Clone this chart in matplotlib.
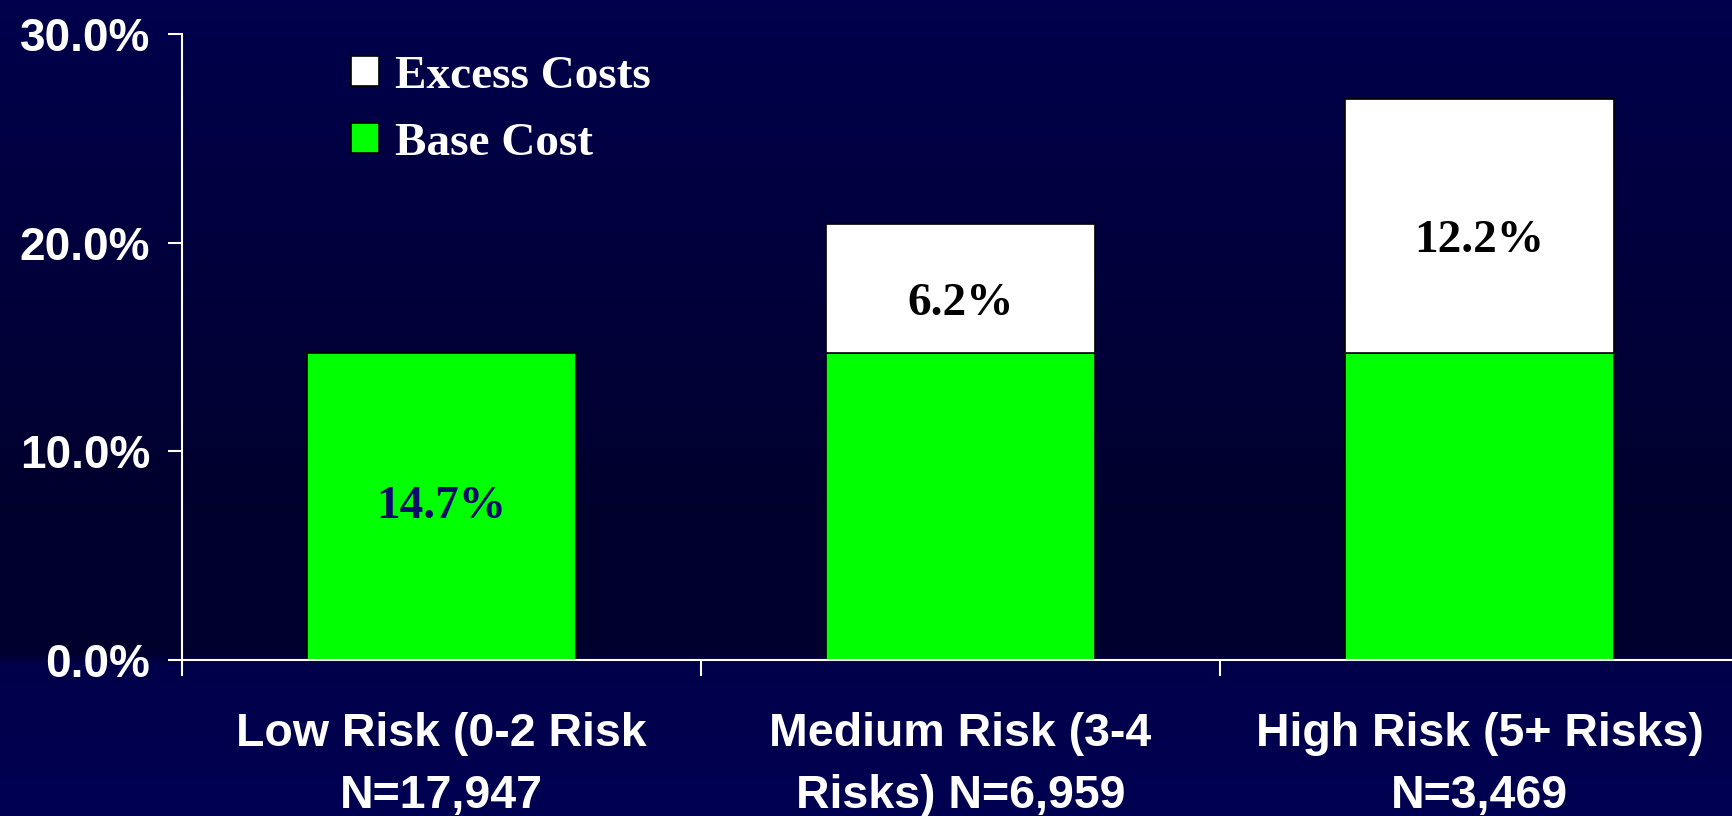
import numpy as np
import matplotlib
matplotlib.use("Agg")
import matplotlib.pyplot as plt
from matplotlib.patches import Patch
from matplotlib.colors import LinearSegmentedColormap

categories = ["Low Risk (0-2 Risk\nN=17,947",
              "Medium Risk (3-4\nRisks) N=6,959",
              "High Risk (5+ Risks)\nN=3,469"]
base_cost = [14.7, 14.7, 14.7]
excess_cost = [0.0, 6.2, 12.2]
yticks = [0, 10, 20, 30]

W, H = 1732, 816
fig = plt.figure(figsize=(W / 100, H / 100), dpi=100)

# background gradient (dark navy, darker towards the axis)
bg = fig.add_axes([0, 0, 1, 1], zorder=-10)
stops = [(0.0, (0, 0, 76 / 255)), (500 / H, (0, 0, 46 / 255)),
         (655 / H, (0, 0, 44 / 255)), (665 / H, (0, 0, 74 / 255)),
         (1.0, (0, 0, 82 / 255))]
cmap = LinearSegmentedColormap.from_list("bg", stops)
grad = np.linspace(0, 1, H).reshape(-1, 1)
bg.imshow(grad, aspect="auto", cmap=cmap, extent=[0, 1, 0, 1], origin="upper")
bg.axis("off")

ax = fig.add_axes([182 / W, 156 / H, 1557 / W, 626 / H])
ax.set_facecolor("none")

x = np.arange(len(categories)) + 0.5
width = 0.52
ax.bar(x, base_cost, width, color="#00ff00", edgecolor="black", linewidth=1.2, zorder=2)
ex = np.array(excess_cost)
m = ex > 0
ax.bar(x[m], ex[m], width, bottom=np.array(base_cost)[m], color="white",
       edgecolor="black", linewidth=1.2, zorder=2)

serif = ["Liberation Serif", "DejaVu Serif"]
sans = ["Liberation Sans", "DejaVu Sans"]

# value labels
ax.text(x[0], base_cost[0] / 2, f"{base_cost[0]:.1f}%", ha="center", va="center",
        fontsize=34, fontweight="bold", family=serif, color="#0b0b6b", zorder=3)
for xi, b, e in zip(x, base_cost, excess_cost):
    if e > 0:
        ax.annotate(f"{e:.1f}%", (xi, b + e / 2), xytext=(0, -11), textcoords="offset points",
                    ha="center", va="center", fontsize=34, fontweight="bold",
                    family=serif, color="black", zorder=3)

ax.set_xlim(0, 3)
ax.set_ylim(0, 30)
ax.set_yticks(yticks)
ax.set_yticklabels([f"{v:.1f}%" for v in yticks], fontsize=33, fontweight="bold",
                   family=sans, color="white")
ax.set_xticks([0, 1, 2, 3])
ax.set_xticklabels([])
ax.tick_params(axis="y", direction="out", length=10, width=1.5, color="white", pad=13)
ax.tick_params(axis="x", direction="out", length=11.5, width=1.5, color="white")

for s in ["top", "right"]:
    ax.spines[s].set_visible(False)
for s in ["left", "bottom"]:
    ax.spines[s].set_color("white")
    ax.spines[s].set_linewidth(1.5)

for xi, lab in zip(x, categories):
    ax.text(xi, -0.083, lab, transform=ax.get_xaxis_transform(), ha="center", va="top",
            fontsize=33.5, fontweight="bold", family=sans, color="white",
            linespacing=1.52)

handles = [Patch(facecolor="white", edgecolor="black", linewidth=1.2),
           Patch(facecolor="#00ff00", edgecolor="black", linewidth=1.2)]
leg = ax.legend(handles, ["Excess Costs", "Base Cost"], loc="upper left",
                bbox_to_anchor=(351 / W, 1 - 56 / H), bbox_transform=fig.transFigure,
                frameon=False, borderpad=0, borderaxespad=0, handlelength=0.6,
                handleheight=0.6, handletextpad=0.34, labelspacing=0.52,
                prop={"family": serif, "weight": "bold", "size": 34})
for t in leg.get_texts():
    t.set_color("white")

fig.savefig("out.png", dpi=100)
